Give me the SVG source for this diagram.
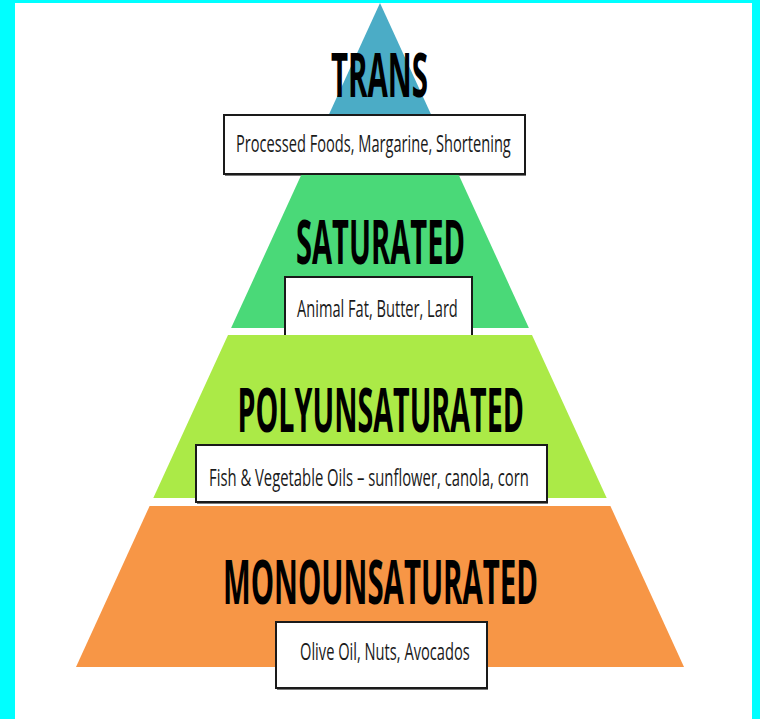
<svg xmlns="http://www.w3.org/2000/svg" width="760" height="719" viewBox="0 0 760 719">
  <style>
    .title { font-family: "Open Sans", "Liberation Sans", sans-serif; font-weight: 700; font-size: 61px; fill: #000; }
    .label { font-family: "Open Sans", "Liberation Sans", sans-serif; font-weight: 400; font-size: 24px; fill: #1a1a1a; }
    .box { fill: #ffffff; stroke: #1a1a1a; stroke-width: 2; }
    .shadow { fill: #7a7a7a; }
  </style>

  <!-- frame -->
  <rect x="0" y="0" width="760" height="719" fill="#00ffff"/>
  <rect x="15" y="3" width="737" height="716" fill="#ffffff"/>

  <!-- top tier -->
  <g id="trans">
    <polygon points="380,3 456.5,170 303.5,170" fill="#4bacc6"/>
    <text class="title" transform="translate(331,97) scale(0.5,1)" x="0" y="0" textLength="194" lengthAdjust="spacingAndGlyphs">TRANS</text>
    <rect class="shadow" x="225" y="117" width="301" height="59"/>
    <rect class="box" x="224" y="115" width="301" height="59"/>
    <text class="label" transform="translate(236,152) scale(0.6,1)" x="0" y="0" textLength="458" lengthAdjust="spacingAndGlyphs">Processed Foods, Margarine, Shortening</text>
  </g>

  <!-- second tier -->
  <g id="saturated">
    <polygon points="301.2,175 458.8,175 528.9,328 231.1,328" fill="#4ad978"/>
    <text class="title" transform="translate(296,264) scale(0.5,1)" x="0" y="0" textLength="338" lengthAdjust="spacingAndGlyphs">SATURATED</text>
    <rect class="shadow" x="286" y="279" width="187" height="59"/>
    <rect class="box" x="285" y="277" width="187" height="59"/>
    <text class="label" transform="translate(297,317) scale(0.6,1)" x="0" y="0" textLength="268" lengthAdjust="spacingAndGlyphs">Animal Fat, Butter, Lard</text>
  </g>

  <!-- third tier -->
  <g id="polyunsaturated">
    <polygon points="228,335 532,335 606.7,498 153.3,498" fill="#abea47"/>
    <text class="title" transform="translate(237.5,432) scale(0.5,1)" x="0" y="0" textLength="573" lengthAdjust="spacingAndGlyphs">POLYUNSATURATED</text>
    <rect class="shadow" x="197" y="447" width="351" height="57"/>
    <rect class="box" x="196" y="445" width="351" height="57"/>
    <text class="label" transform="translate(209,486) scale(0.6,1)" x="0" y="0" textLength="533" lengthAdjust="spacingAndGlyphs">Fish &amp; Vegetable Oils – sunflower, canola, corn</text>
  </g>

  <!-- base tier -->
  <g id="monounsaturated">
    <polygon points="149.6,506 610.4,506 684,667 76,667" fill="#f79646"/>
    <text class="title" transform="translate(223,604) scale(0.5,1)" x="0" y="0" textLength="630" lengthAdjust="spacingAndGlyphs">MONOUNSATURATED</text>
    <rect class="shadow" x="277" y="624" width="211" height="66"/>
    <rect class="box" x="276" y="622" width="211" height="66"/>
    <text class="label" transform="translate(300,660) scale(0.6,1)" x="0" y="0" textLength="283" lengthAdjust="spacingAndGlyphs">Olive Oil, Nuts, Avocados</text>
  </g>
</svg>
